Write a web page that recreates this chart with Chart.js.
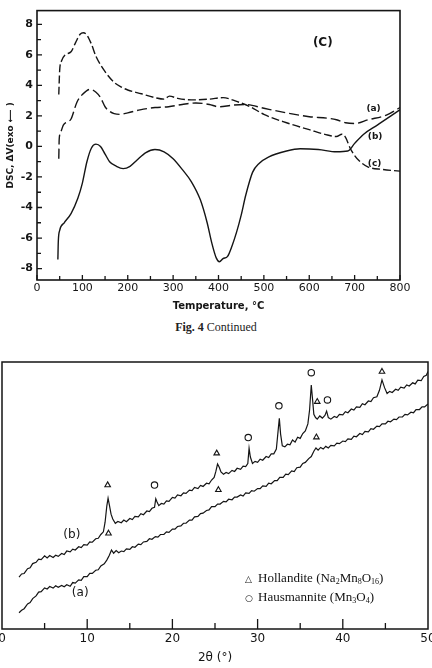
<!DOCTYPE html>
<html>
<head>
<meta charset="utf-8">
<script src="https://cdn.jsdelivr.net/npm/chart.js@4.4.0/dist/chart.umd.min.js"></script>
<style>
html, body { margin: 0; padding: 0; width: 432px; height: 668px; overflow: hidden; background: #fff; }
#dsc { position: absolute; left: 0; top: 0; }
#xrd { position: absolute; left: -20px; top: 340px; }
.caption { position: absolute; top: 320px; left: 0; width: 432px; text-align: center; font: 12px "Liberation Serif", serif; color: #222; }
.key { position: absolute; left: 245px; top: 570px; font: 13px "Liberation Serif", serif; color: #111; line-height: 15px; }
.key sub { font-size: 8px; vertical-align: -2px; }
.key .sym { display: inline-block; width: 13px; font: bold 9px "DejaVu Sans", sans-serif; }
</style>
</head>
<body>
<canvas id="dsc" width="432" height="318"></canvas>
<div class="caption"><b>Fig. 4</b> Continued</div>
<canvas id="xrd" width="470" height="328"></canvas>
<div class="key">
  <div><span class="sym">&#9651;</span>Hollandite (Na<sub>2</sub>Mn<sub>8</sub>O<sub>16</sub>)</div>
  <div><span class="sym">&#9675;</span>Hausmannite (Mn<sub>3</sub>O<sub>4</sub>)</div>
</div>
<script>
// ---- DSC curves (top figure) ----
var tempA = [48, 49, 53, 58, 66, 75, 88, 100, 117, 130, 140, 150, 160, 170, 183, 200, 227, 260, 290, 320, 350, 380, 400, 430, 460, 500, 550, 600, 640, 660, 680, 700, 730, 770, 800];
var dscA  = [-0.8, 0.5, 1.0, 1.4, 1.6, 1.8, 2.9, 3.4, 3.74, 3.55, 3.2, 2.6, 2.3, 2.15, 2.1, 2.2, 2.4, 2.55, 2.6, 2.75, 2.85, 2.75, 2.6, 2.7, 2.75, 2.5, 2.2, 1.95, 1.85, 1.75, 1.55, 1.5, 1.75, 2.05, 2.55];

var tempB = [46, 47, 50, 60, 75, 90, 100, 110, 120, 130, 140, 150, 160, 175, 190, 205, 220, 240, 260, 280, 300, 320, 340, 360, 375, 385, 395, 402, 410, 420, 430, 440, 450, 460, 475, 490, 510, 550, 580, 620, 660, 685, 700, 720, 750, 780, 800];
var dscB  = [-7.4, -6.2, -5.5, -5.0, -4.4, -3.4, -2.4, -1.0, -0.1, 0.15, 0.0, -0.5, -1.0, -1.3, -1.45, -1.3, -0.9, -0.4, -0.2, -0.35, -0.8, -1.5, -2.3, -3.5, -5.0, -6.3, -7.3, -7.55, -7.35, -7.2, -6.5, -5.6, -4.5, -3.2, -1.7, -1.1, -0.7, -0.3, -0.15, -0.2, -0.35, -0.3, 0.2, 0.8, 1.4, 2.0, 2.4];

var tempC = [48, 50, 54, 62, 75, 85, 95, 102, 110, 120, 130, 150, 170, 185, 200, 230, 260, 280, 292, 310, 340, 380, 410, 440, 470, 500, 550, 600, 640, 660, 672, 680, 690, 700, 712, 730, 760, 800];
var dscC  = [3.4, 5.0, 5.6, 6.0, 6.2, 6.8, 7.35, 7.45, 7.3, 6.7, 5.9, 4.9, 4.2, 3.9, 3.7, 3.45, 3.2, 3.1, 3.3, 3.15, 3.05, 3.1, 3.2, 2.95, 2.6, 2.1, 1.55, 1.1, 0.75, 0.65, 0.8, 0.6, -0.1, -0.6, -1.0, -1.35, -1.5, -1.62];

var tempTicks  = [0, 100, 200, 300, 400, 500, 600, 700, 800];
var tempMinor  = [50, 150, 250, 350, 450, 550, 650, 750];
var dscTicks   = [-8, -6, -4, -2, 0, 2, 4, 6, 8];
var dscMinor   = [-7, -5, -3, -1, 1, 3, 5, 7];

// ---- XRD patterns (bottom figure), intensity in arbitrary units ----
var thetaB = [2.0, 2.3, 2.6, 3.0, 3.3, 3.6, 4.0, 4.3, 4.6, 5.0,
  5.3, 5.6, 6.0, 6.3, 6.6, 7.0, 7.3, 7.6, 8.0, 8.3,
  8.6, 9.0, 9.3, 9.6, 10.0, 10.3, 10.6, 11.0, 11.3, 11.6,
  11.9, 12.1, 12.3, 12.45, 12.6, 12.8, 13.0, 13.3, 13.6, 14.0,
  14.3, 14.6, 15.0, 15.3, 15.6, 16.0, 16.3, 16.6, 17.0, 17.3,
  17.6, 17.9, 18.05, 18.2, 18.4, 18.7, 19.0, 19.3, 19.6, 20.0,
  20.3, 20.6, 21.0, 21.3, 21.6, 22.0, 22.3, 22.6, 23.0, 23.3,
  23.6, 24.0, 24.3, 24.6, 24.9, 25.1, 25.3, 25.5, 25.7, 26.0,
  26.3, 26.6, 27.0, 27.3, 27.6, 28.0, 28.3, 28.6, 28.85, 29.0,
  29.15, 29.4, 29.7, 30.0, 30.3, 30.6, 31.0, 31.3, 31.6, 31.9,
  32.2, 32.4, 32.55, 32.7, 32.9, 33.2, 33.5, 33.8, 34.1, 34.4,
  34.7, 35.0, 35.3, 35.6, 35.9, 36.1, 36.3, 36.45, 36.6, 36.8,
  37.0, 37.3, 37.6, 37.9, 38.1, 38.3, 38.6, 39.0, 39.3, 39.6,
  40.0, 40.3, 40.6, 41.0, 41.3, 41.6, 42.0, 42.3, 42.6, 43.0,
  43.3, 43.6, 44.0, 44.3, 44.6, 44.9, 45.2, 45.5, 45.8, 46.2,
  46.5, 46.8, 47.2, 47.5, 47.8, 48.2, 48.5, 48.8, 49.2, 49.5,
  49.8, 50.0];
var intB = [19.4, 20.6, 20.8, 22.6, 22.9, 24.5, 25.0, 26.2, 26.0, 27.4,
  26.6, 27.5, 26.8, 27.6, 27.2, 28.3, 27.9, 29.2, 28.9, 29.9,
  29.6, 30.8, 30.5, 31.6, 31.4, 32.6, 32.5, 33.8, 34.0, 35.4,
  36.4, 40.0, 46.0, 49.0, 46.5, 43.0, 41.2, 39.6, 40.3, 39.8,
  40.8, 40.2, 41.4, 41.0, 42.2, 42.0, 43.2, 42.8, 44.2, 44.0,
  45.2, 45.6, 48.8, 47.6, 46.2, 47.0, 46.8, 48.0, 47.8, 49.3,
  49.0, 50.2, 49.9, 51.0, 50.8, 52.0, 51.8, 53.0, 52.6, 53.8,
  53.4, 54.6, 54.4, 55.8, 56.8, 59.0, 61.8, 60.6, 58.8, 58.0,
  58.6, 58.2, 59.4, 59.0, 60.2, 59.8, 61.0, 60.8, 62.0, 67.7,
  64.4, 62.0, 62.8, 62.4, 63.6, 63.2, 64.6, 64.2, 65.6, 65.6,
  67.4, 74.0, 78.9, 73.0, 68.6, 68.2, 69.2, 69.0, 70.8, 70.0,
  71.8, 71.4, 73.2, 74.2, 76.8, 82.0, 91.4, 86.0, 80.4, 79.2,
  78.6, 79.8, 79.0, 80.0, 81.6, 79.2, 78.6, 79.6, 79.2, 80.4,
  80.2, 81.4, 81.0, 82.4, 82.0, 83.2, 83.0, 84.4, 84.0, 85.4,
  85.2, 86.6, 87.0, 89.4, 93.3, 90.4, 88.2, 89.0, 88.6, 89.8,
  89.4, 90.6, 90.2, 91.4, 91.0, 92.2, 91.8, 93.2, 93.0, 94.6,
  95.0, 96.4];

var thetaA = [2.0, 2.3, 2.6, 3.0, 3.3, 3.6, 4.0, 4.3, 4.6, 5.0,
  5.3, 5.6, 6.0, 6.3, 6.6, 7.0, 7.3, 7.6, 8.0, 8.3,
  8.6, 9.0, 9.3, 9.6, 10.0, 10.3, 10.6, 11.0, 11.3, 11.6,
  12.0, 12.3, 12.6, 12.85, 13.1, 13.4, 13.7, 14.0, 14.3, 14.6,
  15.0, 15.3, 15.6, 16.0, 16.3, 16.6, 17.0, 17.3, 17.6, 18.0,
  18.3, 18.6, 19.0, 19.3, 19.6, 20.0, 20.3, 20.6, 21.0, 21.3,
  21.6, 22.0, 22.3, 22.6, 23.0, 23.3, 23.6, 24.0, 24.3, 24.6,
  25.0, 25.3, 25.6, 26.0, 26.3, 26.6, 27.0, 27.3, 27.6, 28.0,
  28.3, 28.6, 29.0, 29.3, 29.6, 30.0, 30.3, 30.6, 31.0, 31.3,
  31.6, 32.0, 32.3, 32.6, 33.0, 33.3, 33.6, 34.0, 34.3, 34.6,
  35.0, 35.3, 35.6, 36.0, 36.3, 36.6, 36.85, 37.1, 37.4, 37.7,
  38.0, 38.3, 38.6, 39.0, 39.3, 39.6, 40.0, 40.3, 40.6, 41.0,
  41.3, 41.6, 42.0, 42.3, 42.6, 43.0, 43.3, 43.6, 44.0, 44.3,
  44.6, 45.0, 45.3, 45.6, 46.0, 46.3, 46.6, 47.0, 47.3, 47.6,
  48.0, 48.3, 48.6, 49.0, 49.3, 49.6, 50.0];
var intA = [6.1, 7.0, 7.6, 9.4, 9.9, 11.4, 12.4, 13.8, 14.0, 15.4,
  15.0, 15.9, 15.3, 16.2, 15.6, 16.3, 15.8, 16.6, 16.0, 17.4,
  17.2, 18.4, 18.2, 19.6, 19.6, 20.8, 20.8, 22.0, 22.2, 23.6,
  24.4, 25.8, 27.6, 29.6, 28.4, 29.4, 28.6, 29.2, 29.0, 30.0,
  29.8, 30.8, 30.6, 31.8, 31.6, 32.6, 32.8, 33.8, 33.6, 34.6,
  34.4, 35.4, 35.4, 36.4, 36.2, 37.4, 37.4, 38.4, 38.6, 39.6,
  39.6, 40.8, 40.8, 42.0, 42.2, 43.2, 43.4, 44.4, 44.6, 45.8,
  45.8, 46.8, 46.8, 47.8, 47.6, 48.6, 48.4, 49.4, 49.4, 50.2,
  49.8, 51.0, 50.8, 51.8, 51.6, 52.6, 52.6, 53.6, 53.4, 54.6,
  54.4, 55.6, 55.6, 56.8, 56.8, 58.0, 57.8, 59.2, 59.0, 60.4,
  60.6, 62.0, 62.4, 63.8, 64.6, 66.6, 67.8, 67.0, 68.0, 67.4,
  68.4, 67.8, 68.8, 68.6, 69.6, 69.4, 70.4, 70.2, 71.2, 71.0,
  72.2, 72.0, 73.2, 72.8, 74.0, 73.8, 75.0, 74.8, 76.0, 75.8,
  76.8, 76.8, 77.8, 77.6, 78.6, 78.4, 79.4, 79.4, 80.4, 80.2,
  81.2, 81.0, 82.2, 82.2, 83.2, 83.2, 84.3];

// peak markers
var hollB = [12.4, 25.2, 37.0, 44.6],       hollBy = [53.9, 65.8, 85.1, 96.4];
var hausB = [17.9, 28.9, 32.5, 36.3, 38.2], hausBy = [53.9, 71.7, 83.6, 96.0, 85.8];
var hollA = [12.5, 25.4, 36.9],             hollAy = [35.8, 52.1, 71.8];

var thetaTicks = [0, 10, 20, 30, 40, 50];
var thetaMajor = [10, 20, 30, 40];
var thetaMinor = [5, 15, 25, 35, 45];

var ink = '#151515';

function pts(xs, ys) {
    return xs.map(function(x, i) { return { x: x, y: ys[i] }; });
}

// box round the plot, inward ticks, small labels
var framePlugin = {
    id: 'frame',
    afterDatasetsDraw: function(chart, args, o) {
        var ctx = chart.ctx, a = chart.chartArea;
        var sx = chart.scales.x, sy = chart.scales.y;
        ctx.save();
        ctx.strokeStyle = ink;
        ctx.lineWidth = o.width;
        ctx.strokeRect(a.left, a.top, a.right - a.left, a.bottom - a.top);
        ctx.lineWidth = o.tickWidth;
        ctx.beginPath();
        (o.xTicks || []).forEach(function(t) {
            t[0].forEach(function(v) {
                var px = sx.getPixelForValue(v);
                ctx.moveTo(px, a.bottom);
                ctx.lineTo(px, a.bottom - t[1]);
            });
        });
        (o.yTicks || []).forEach(function(t) {
            t[0].forEach(function(v) {
                var py = sy.getPixelForValue(v);
                ctx.moveTo(a.left, py);
                ctx.lineTo(a.left + t[1], py);
            });
        });
        ctx.stroke();
        ctx.fillStyle = ink;
        ctx.textAlign = 'left';
        ctx.textBaseline = 'middle';
        (o.notes || []).forEach(function(n) {
            ctx.font = n.font;
            ctx.fillText(n.text, sx.getPixelForValue(n.x), sy.getPixelForValue(n.y));
        });
        ctx.restore();
    }
};

// ---------------- DSC ----------------
new Chart(document.getElementById('dsc'), {
    type: 'line',
    data: {
        datasets: [
            { label: '(a)', data: pts(tempA, dscA), borderDash: [10, 4] },
            { label: '(b)', data: pts(tempB, dscB) },
            { label: '(c)', data: pts(tempC, dscC), borderDash: [8, 3] }
        ]
    },
    options: {
        responsive: false,
        animation: false,
        layout: { padding: { top: 7, right: 32, left: 0, bottom: 0 } },
        elements: {
            point: { radius: 0 },
            line: { borderColor: ink, borderWidth: 1.4, tension: 0.4, cubicInterpolationMode: 'monotone', fill: false }
        },
        plugins: {
            legend: { display: false },
            tooltip: { enabled: false },
            frame: {
                width: 1.6, tickWidth: 1.3,
                xTicks: [[tempTicks, 5], [tempMinor, 4]],
                yTicks: [[dscTicks, 5], [dscMinor, 4]],
                notes: [
                    { text: '(C)', x: 608, y: 6.8, font: 'bold 12px "DejaVu Sans"' },
                    { text: '(a)', x: 726, y: 2.49, font: 'bold 9px "DejaVu Sans"' },
                    { text: '(b)', x: 729, y: 0.61, font: 'bold 9px "DejaVu Sans"' },
                    { text: '(c)', x: 729, y: -1.13, font: 'bold 9px "DejaVu Sans"' }
                ]
            }
        },
        scales: {
            x: {
                type: 'linear', min: 0, max: 800,
                grid: { display: false, drawTicks: false },
                border: { display: false },
                afterBuildTicks: function(s) { s.ticks = tempTicks.map(function(v) { return { value: v }; }); },
                afterFit: function(s) { s.height = 38; },
                ticks: { padding: 2, color: ink, autoSkip: false, maxRotation: 0, font: { family: 'DejaVu Sans', size: 11 } },
                title: { display: true, text: 'Temperature, °C', color: ink, padding: { top: 0, bottom: 6 },
                         font: { family: 'DejaVu Sans', size: 10, weight: 'bold' } }
            },
            y: {
                type: 'linear', min: -8.75, max: 8.9,
                grid: { display: false, drawTicks: false },
                border: { display: false },
                afterBuildTicks: function(s) { s.ticks = dscTicks.map(function(v) { return { value: v }; }); },
                afterFit: function(s) { s.width = 37; },
                ticks: { padding: 4, color: ink, font: { family: 'DejaVu Sans', size: 11, weight: 'bold' } },
                title: { display: true, text: 'DSC, \u0394V(exo \u27F5 )', color: ink, padding: { top: 5, bottom: 0 },
                         font: { family: 'DejaVu Sans', size: 9, weight: 'bold' } }
            }
        }
    },
    plugins: [framePlugin]
});

// ---------------- XRD ----------------
function marks(xs, ys, style) {
    return {
        data: pts(xs, ys), showLine: false, pointStyle: style, pointRadius: 3.2,
        pointBorderColor: ink, pointBackgroundColor: '#fff', pointBorderWidth: 1.1
    };
}

new Chart(document.getElementById('xrd'), {
    type: 'line',
    data: {
        datasets: [
            { label: '(b)', data: pts(thetaB, intB) },
            { label: '(a)', data: pts(thetaA, intA) },
            marks(hollB, hollBy, 'triangle'),
            marks(hausB, hausBy, 'circle'),
            marks(hollA, hollAy, 'triangle')
        ]
    },
    options: {
        responsive: false,
        animation: false,
        layout: { padding: { top: 22, right: 22, left: 22, bottom: 0 } },
        elements: {
            point: { radius: 0 },
            line: { borderColor: ink, borderWidth: 1.2, tension: 0, fill: false }
        },
        plugins: {
            legend: { display: false },
            tooltip: { enabled: false },
            frame: {
                width: 1.5, tickWidth: 1.3,
                xTicks: [[thetaMajor, 10], [thetaMinor, 6]],
                notes: [
                    { text: '(b)', x: 7.2, y: 35.2, font: '12px "DejaVu Sans"' },
                    { text: '(a)', x: 8.2, y: 13.4, font: '12px "DejaVu Sans"' }
                ]
            }
        },
        scales: {
            x: {
                type: 'linear', min: 0, max: 50,
                grid: { display: false, drawTicks: false },
                border: { display: false },
                afterBuildTicks: function(s) { s.ticks = thetaTicks.map(function(v) { return { value: v }; }); },
                afterFit: function(s) { s.height = 39; },
                ticks: { padding: 3, color: ink, autoSkip: false, maxRotation: 0, font: { family: 'DejaVu Sans', size: 12 } },
                title: { display: true, text: '2\u03B8 (\u00B0)', color: ink, padding: { top: 0, bottom: 3 },
                         font: { family: 'DejaVu Sans', size: 12 } }
            },
            y: { type: 'linear', min: 0, max: 100, display: false }
        }
    },
    plugins: [framePlugin]
});
</script>
</body>
</html>
